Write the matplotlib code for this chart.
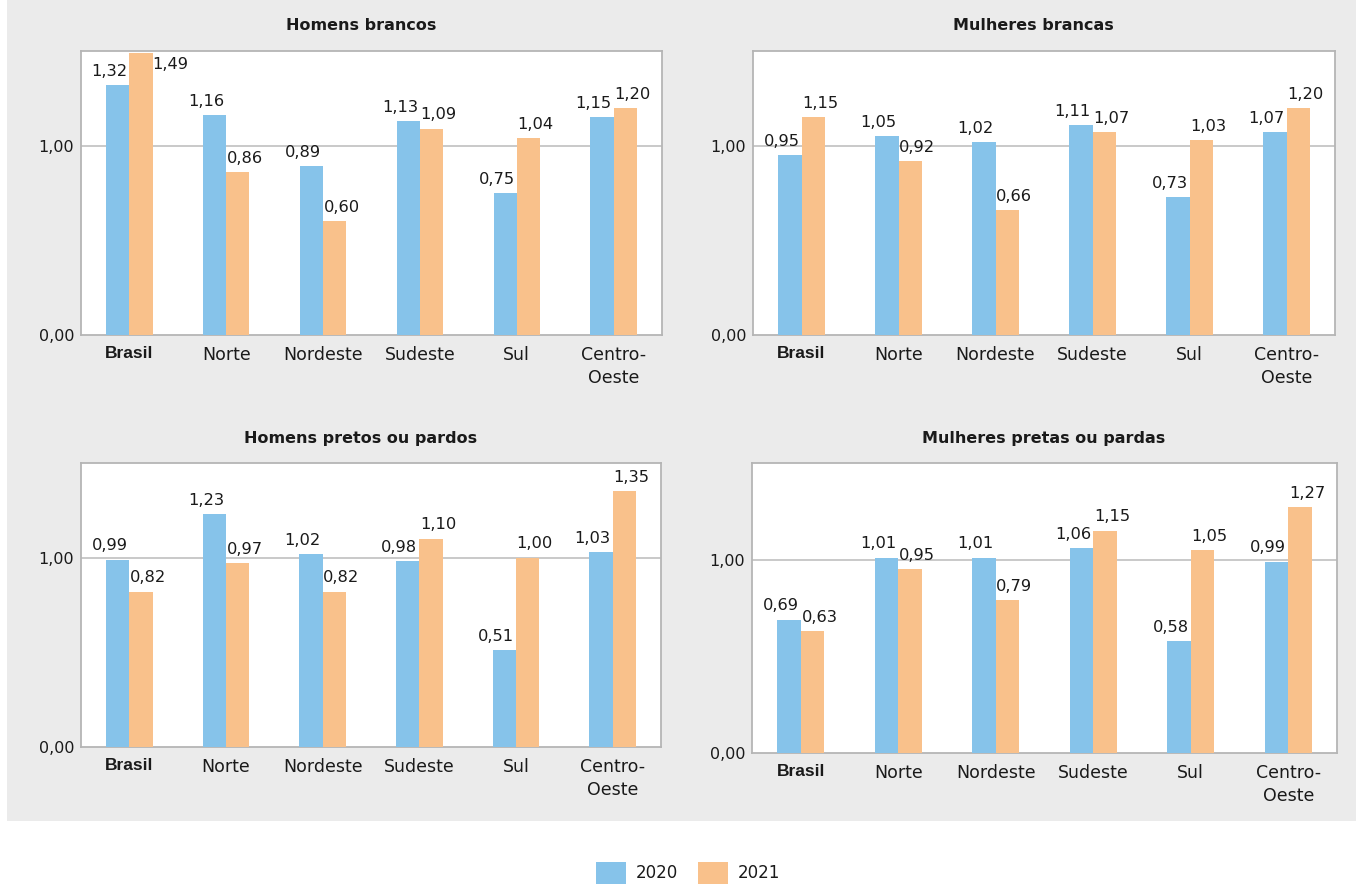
import matplotlib
matplotlib.use("Agg")
import matplotlib.pyplot as plt
from matplotlib.patches import Rectangle, Patch
import numpy as np

regions = ["Brasil", "Norte", "Nordeste", "Sudeste", "Sul", "Centro-\nOeste"]
panel_titles = ["Homens brancos", "Mulheres brancas",
                "Homens pretos ou pardos", "Mulheres pretas ou pardas"]
years = ["2020", "2021"]

homens_brancos_2020 = [1.32, 1.16, 0.89, 1.13, 0.75, 1.15]
homens_brancos_2021 = [1.49, 0.86, 0.60, 1.09, 1.04, 1.20]
mulheres_brancas_2020 = [0.95, 1.05, 1.02, 1.11, 0.73, 1.07]
mulheres_brancas_2021 = [1.15, 0.92, 0.66, 1.07, 1.03, 1.20]
homens_pretos_2020 = [0.99, 1.23, 1.02, 0.98, 0.51, 1.03]
homens_pretos_2021 = [0.82, 0.97, 0.82, 1.10, 1.00, 1.35]
mulheres_pretas_2020 = [0.69, 1.01, 1.01, 1.06, 0.58, 0.99]
mulheres_pretas_2021 = [0.63, 0.95, 0.79, 1.15, 1.05, 1.27]

series = [
    (homens_brancos_2020, homens_brancos_2021),
    (mulheres_brancas_2020, mulheres_brancas_2021),
    (homens_pretos_2020, homens_pretos_2021),
    (mulheres_pretas_2020, mulheres_pretas_2021),
]

BLUE = "#86C3EA"
ORANGE = "#F9C18B"
BG = "#EBEBEB"
SPINE = "#B5B5B5"
TXT = "#1a1a1a"

W, H = 1356, 886
fig = plt.figure(figsize=(W / 100, H / 100), dpi=100)
fig.patch.set_facecolor("white")
fig.add_artist(Rectangle((7 / W, 1 - 821 / H), 1 - 7 / W, 821 / H,
                         transform=fig.transFigure, facecolor=BG,
                         edgecolor="none", zorder=-10))

# axes boxes in pixels: (left, top, right, bottom)
boxes = [(81, 51, 662, 335), (753, 51, 1335, 335),
         (81, 463, 661, 747), (752, 463, 1337, 753)]
title_pos = [(361, 26), (1033, 26), (361, 438), (1044, 438)]


def fmt(v):
    return f"{v:.2f}".replace(".", ",")


x = np.arange(len(regions))
bw = 0.24
for (l, t, r, b), (s20, s21), title, (tx, ty) in zip(boxes, series, panel_titles, title_pos):
    ax = fig.add_axes([l / W, 1 - b / H, (r - l) / W, (b - t) / H])
    ax.set_facecolor("white")
    ax.bar(x - bw / 2, s20, width=bw, color=BLUE, zorder=3)
    ax.bar(x + bw / 2, s21, width=bw, color=ORANGE, zorder=3)
    ax.set_xlim(-0.5, len(regions) - 0.5)
    ax.set_ylim(0, 1.5)
    ax.set_yticks([0, 1])
    ax.set_yticklabels([fmt(0), fmt(1)])
    ax.axhline(1.0, color="#C0C0C0", lw=1.2, zorder=1)
    ax.set_xticks(x)
    ax.set_xticklabels(regions, fontsize=12.5, color=TXT, linespacing=1.35)
    first = ax.get_xticklabels()[0]
    first.set_fontweight("bold")
    first.set_fontfamily(["Liberation Sans", "DejaVu Sans"])
    ax.tick_params(axis="x", length=0, pad=8)
    ax.tick_params(axis="y", length=0, pad=5, labelsize=11.5, labelcolor=TXT)
    for sp in ax.spines.values():
        sp.set_color(SPINE)
        sp.set_linewidth(1.3)
    for i in range(len(regions)):
        for k, (vals, dx) in enumerate([(s20, -6), (s21, 5)]):
            v = vals[i]
            xc = x[i] + (k - 0.5) * bw
            if v + 0.09 > 1.5:
                ax.annotate(fmt(v), (xc + bw / 2, v), xytext=(0, -3),
                            textcoords="offset points", ha="left", va="top",
                            fontsize=11.7, color=TXT)
            else:
                ax.annotate(fmt(v), (xc, v), xytext=(dx, 4.5),
                            textcoords="offset points", ha="center",
                            va="bottom", fontsize=11.7, color=TXT)
    fig.text(tx / W, 1 - ty / H, title, ha="center", va="center",
             fontsize=11.5, fontweight="bold", color=TXT)

handles = [Patch(facecolor=BLUE, edgecolor="none"),
           Patch(facecolor=ORANGE, edgecolor="none")]
fig.legend(handles, years, loc="center", bbox_to_anchor=(688 / W, 1 - 873 / H),
           ncol=2, frameon=False, fontsize=12, handlelength=1.8,
           handleheight=1.6, handletextpad=0.6, columnspacing=1.15,
           labelcolor=TXT)

fig.savefig("out.png", dpi=100)
